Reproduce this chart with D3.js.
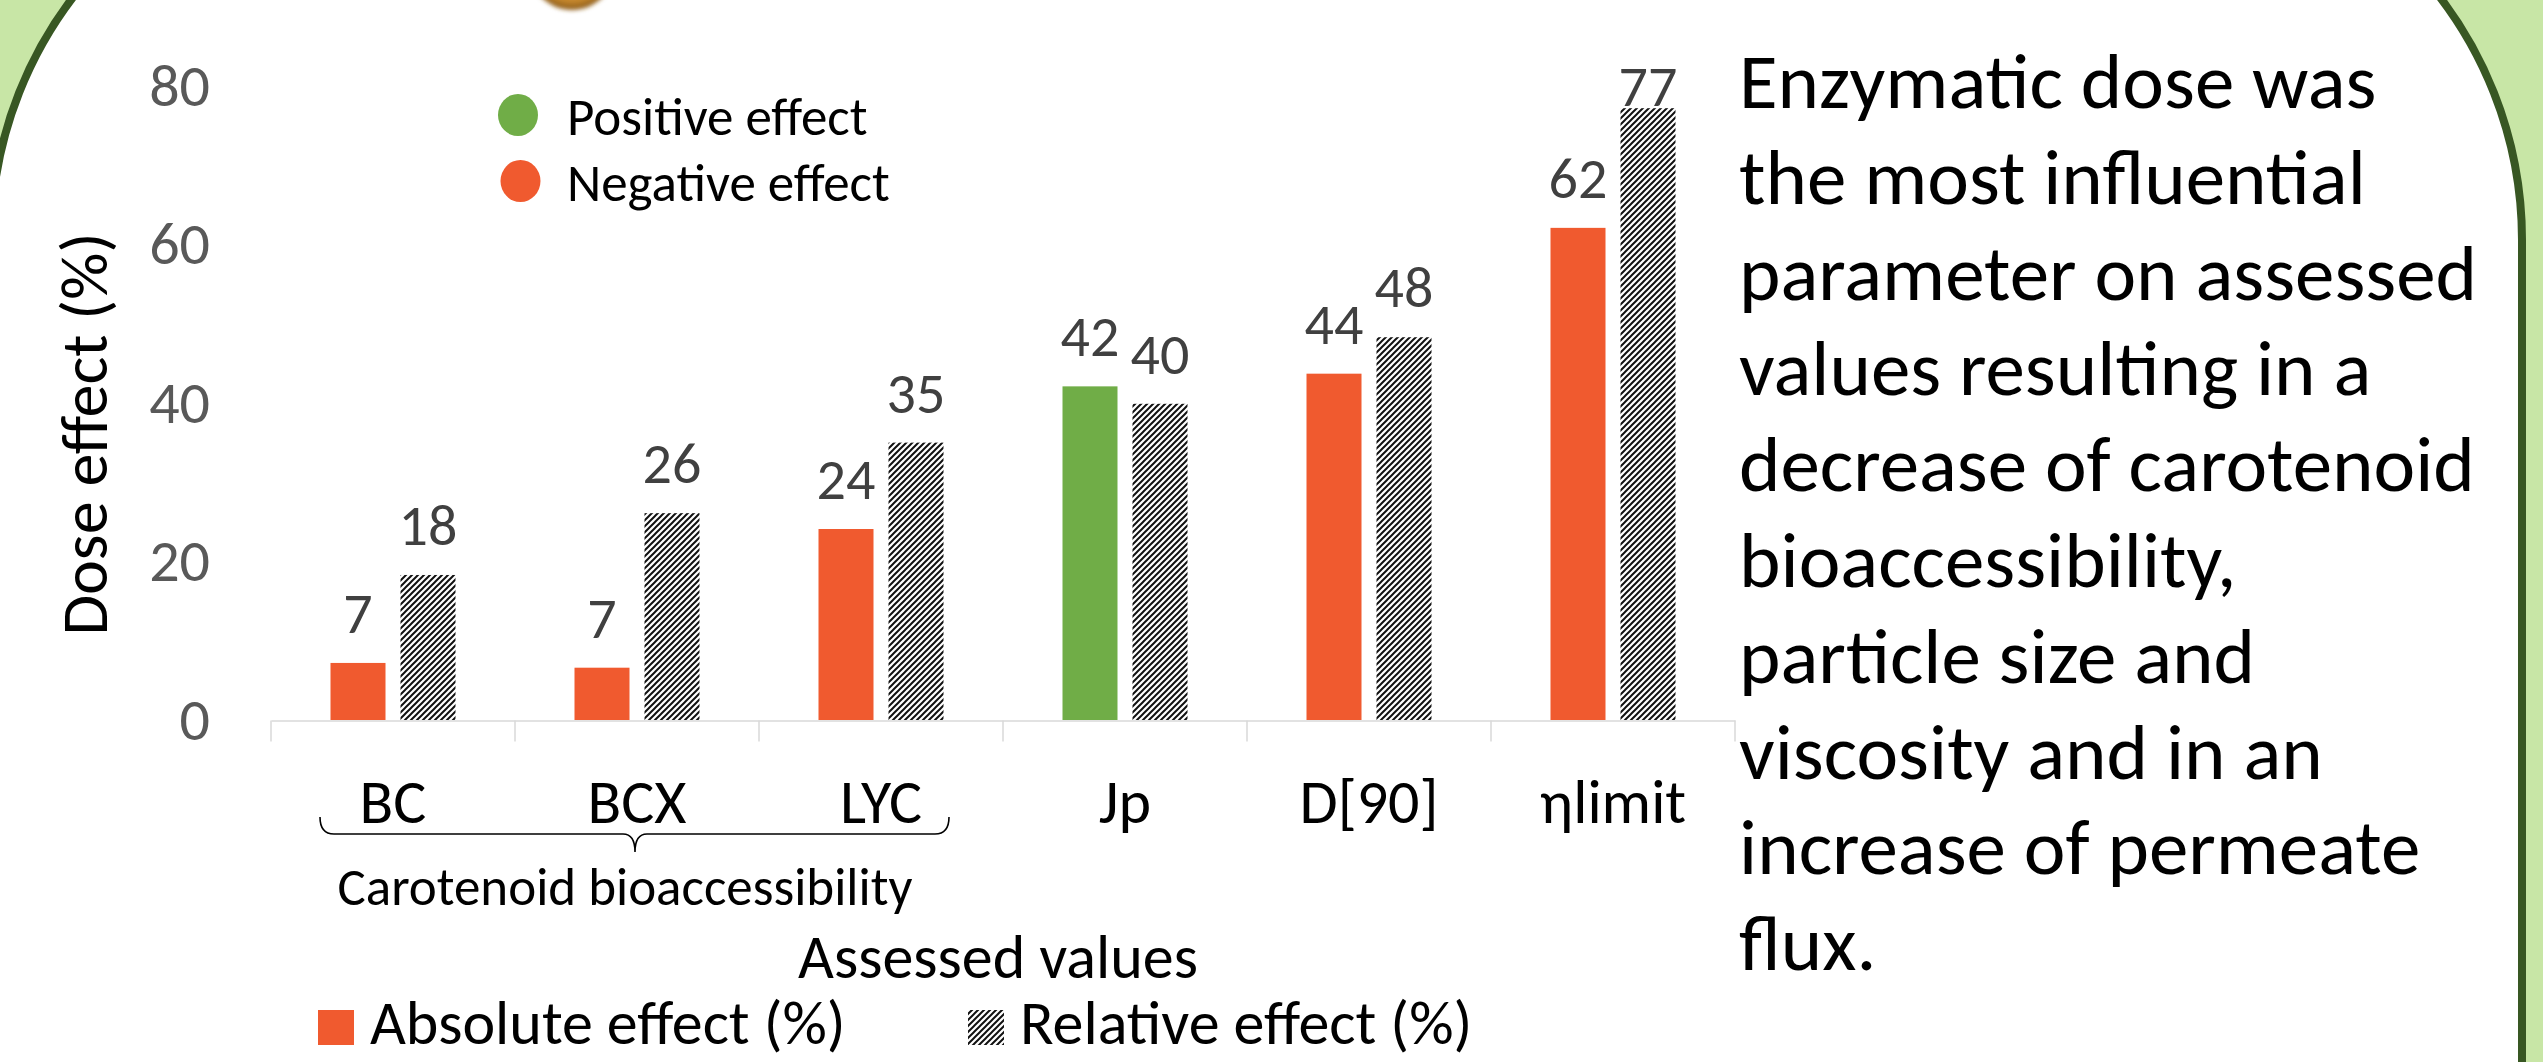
<!DOCTYPE html>
<html>
<head>
<meta charset="utf-8">
<script src="https://cdn.jsdelivr.net/npm/d3@7"></script>
<style>
  html, body { margin: 0; padding: 0; background: #fff; overflow: hidden; }
  svg { display: block; }
  text { font-family: Calibri, Carlito, Lato, sans-serif; }
</style>
</head>
<body>
<svg id="chart" width="2543" height="1062"></svg>
<script>
const categories = ['BC', 'BCX', 'LYC', 'Jp', 'D[90]', 'ηlimit'];
const absoluteEffect = [7.2, 6.6, 24.1, 42.1, 43.7, 62.1];
const relativeEffect = [18.3, 26.1, 35.0, 39.9, 48.3, 77.2];
const effectSign = ['negative', 'negative', 'negative', 'positive', 'negative', 'negative'];
const yTicks = [0, 20, 40, 60, 80];
const seriesNames = ['Absolute effect (%)', 'Relative effect (%)'];
const effectNames = ['Positive effect', 'Negative effect'];
const groupLabel = 'Carotenoid bioaccessibility';
const summaryLines = [
  'Enzymatic dose was',
  'the most influential',
  'parameter on assessed',
  'values resulting in a',
  'decrease of carotenoid',
  'bioaccessibility,',
  'particle size and',
  'viscosity and in an',
  'increase of permeate',
  'flux.'
];

const W = 2543, H = 1062;
const orange = '#f05a2f', green = '#70ad47';
const fillFor = { negative: orange, positive: green };

const svg = d3.select('#chart');
const defs = svg.append('defs');

// hatch used for the relative series
const hatch = defs.append('pattern')
  .attr('id', 'hatch')
  .attr('patternUnits', 'userSpaceOnUse')
  .attr('width', 6).attr('height', 6);
hatch.append('rect').attr('width', 6).attr('height', 6).attr('fill', '#fff');
hatch.append('path')
  .attr('d', 'M0,6L6,0M-1.5,1.5L1.5,-1.5M4.5,7.5L7.5,4.5')
  .attr('stroke', '#111').attr('stroke-width', 2);

const glow = defs.append('radialGradient').attr('id', 'gold');
glow.append('stop').attr('offset', '0%').attr('stop-color', '#f2b35a');
glow.append('stop').attr('offset', '80%').attr('stop-color', '#c98a2e');
glow.append('stop').attr('offset', '100%').attr('stop-color', '#8a5a1a');
defs.append('filter').attr('id', 'soft')
  .append('feGaussianBlur').attr('stdDeviation', 2);

// poster background: green outside, white rounded panel
svg.append('rect').attr('width', W).attr('height', H).attr('fill', '#c8e6a6');
svg.append('rect')
  .attr('x', -9).attr('y', -160)
  .attr('width', 2531).attr('height', 3000)
  .attr('rx', 400).attr('ry', 400)
  .attr('fill', '#fff')
  .attr('stroke', '#385723').attr('stroke-width', 8);

svg.append('ellipse')
  .attr('cx', 572).attr('cy', -40).attr('rx', 46).attr('ry', 50)
  .attr('fill', 'url(#gold)').attr('filter', 'url(#soft)');

// scales
const x = d3.scaleBand().domain(categories).range([271, 1735]);
const xs = d3.scaleBand().domain(seriesNames).range([-62.5, 62.5]).paddingInner(15 / 70);
const y = d3.scaleLinear().domain([0, 80]).range([720, 86]);

const rows = categories.map((c, i) => ({
  cat: c,
  sign: effectSign[i],
  vals: [absoluteEffect[i], relativeEffect[i]]
}));

const g = svg.append('g');

// y axis labels, no line
const yAxis = g.append('g')
  .attr('transform', 'translate(271,0)')
  .call(d3.axisLeft(y).tickValues(yTicks).tickSize(0).tickPadding(61));
yAxis.select('.domain').remove();
yAxis.selectAll('text')
  .attr('font-family', null)
  .style('font-size', '60px')
  .attr('fill', '#595959');

// bars
const groups = g.selectAll('.cat')
  .data(rows)
  .join('g')
  .attr('class', 'cat')
  .attr('transform', d => `translate(${x(d.cat) + x.bandwidth() / 2},0)`);

groups.selectAll('rect')
  .data(d => d.vals.map((v, k) => ({ v, k, sign: d.sign })))
  .join('rect')
  .attr('x', d => xs(seriesNames[d.k]))
  .attr('width', xs.bandwidth())
  .attr('y', d => y(d.v))
  .attr('height', d => y(0) - y(d.v))
  .attr('fill', d => d.k === 0 ? fillFor[d.sign] : 'url(#hatch)');

groups.selectAll('text.val')
  .data(d => d.vals.map((v, k) => ({ v, k })))
  .join('text')
  .attr('class', 'val')
  .attr('x', d => xs(seriesNames[d.k]) + xs.bandwidth() / 2)
  .attr('y', d => Math.max(y(d.v) - 30, y(80) + 20))
  .attr('text-anchor', 'middle')
  .style('font-size', '58px')
  .attr('fill', '#404040')
  .text(d => d3.format('.0f')(d.v));

// x axis
const xAxis = g.append('g')
  .attr('transform', 'translate(0,720.5)')
  .call(d3.axisBottom(x).tickSize(0));
xAxis.select('.domain').attr('stroke', '#d9d9d9').attr('stroke-width', 1.5);
xAxis.selectAll('text')
  .attr('font-family', null)
  .attr('dy', null)
  .attr('y', 102)
  .style('font-size', '62px')
  .attr('fill', '#000');

const bounds = categories.map(c => x(c)).concat([x.range()[1]]);
xAxis.selectAll('line.sep')
  .data(bounds)
  .join('line')
  .attr('class', 'sep')
  .attr('x1', d => d).attr('x2', d => d)
  .attr('y1', 0).attr('y2', 21)
  .attr('stroke', '#d9d9d9').attr('stroke-width', 1.5);

// brace under the carotenoid group
const bL = x('BC') + 49, bR = x('LYC') + x.bandwidth() - 54;
const bM = x('BCX') + x.bandwidth() / 2 - 2;
const bTop = 817, bLine = 834, bTip = 852;
g.append('path')
  .attr('d', `M${bL},${bTop}Q${bL},${bLine} ${bL + 14},${bLine}H${bM - 12}` +
    `Q${bM},${bLine} ${bM},${bTip}Q${bM},${bLine} ${bM + 12},${bLine}` +
    `H${bR - 14}Q${bR},${bLine} ${bR},${bTop}`)
  .attr('fill', 'none').attr('stroke', '#000').attr('stroke-width', 1.6);

g.append('text')
  .attr('x', 625).attr('y', 905)
  .attr('text-anchor', 'middle')
  .style('font-size', '53px')
  .text(groupLabel);

g.append('text')
  .attr('x', 998).attr('y', 978)
  .attr('text-anchor', 'middle')
  .style('font-size', '62px')
  .text('Assessed values');

g.append('text')
  .attr('transform', 'translate(107,434) rotate(-90)')
  .attr('text-anchor', 'middle')
  .style('font-size', '66px')
  .text('Dose effect (%)');

// effect legend (dots)
const effLeg = g.selectAll('.eff')
  .data(effectNames)
  .join('g')
  .attr('class', 'eff')
  .attr('transform', (d, i) => `translate(0,${i * 66})`);
effLeg.append('ellipse')
  .attr('cx', (d, i) => 518 + i * 2.5).attr('cy', 115)
  .attr('rx', 20).attr('ry', 21)
  .attr('fill', (d, i) => i === 0 ? green : orange);
effLeg.append('text')
  .attr('x', 567).attr('y', 135)
  .style('font-size', '53px')
  .text(d => d);

// series legend
const serLeg = g.selectAll('.ser')
  .data(seriesNames)
  .join('g')
  .attr('class', 'ser')
  .attr('transform', (d, i) => `translate(${318 + i * 650},0)`);
serLeg.append('rect')
  .attr('x', 0).attr('y', 1010)
  .attr('width', 36).attr('height', 35)
  .attr('fill', (d, i) => i === 0 ? orange : 'url(#hatch)');
serLeg.append('text')
  .attr('x', 52).attr('y', 1044)
  .style('font-size', '62px')
  .text(d => d);

// side note
svg.append('g').selectAll('text')
  .data(summaryLines)
  .join('text')
  .attr('x', 1739)
  .attr('y', (d, i) => 108 + i * 95.8)
  .style('font-size', '79px')
  .attr('fill', '#000')
  .text(d => d);
</script>
</body>
</html>
